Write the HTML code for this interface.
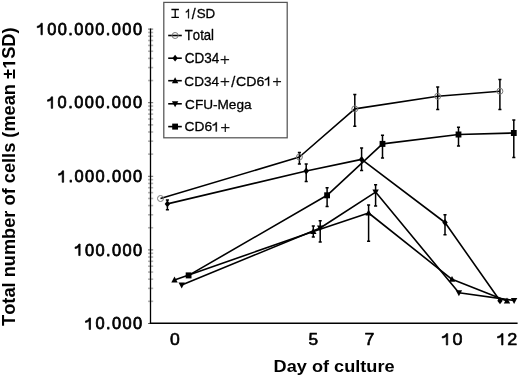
<!DOCTYPE html>
<html><head><meta charset="utf-8"><style>
html,body{margin:0;padding:0;background:#fff;}
svg{display:block;will-change:transform;}
</style></head><body>
<svg width="520" height="377" viewBox="0 0 520 377">
<line x1="148" y1="323.50" x2="153.2" y2="323.50" stroke="#666" stroke-width="1"/>
<line x1="148" y1="301.34" x2="153.2" y2="301.34" stroke="#b4b4b4" stroke-width="1.6"/>
<line x1="148" y1="288.38" x2="153.2" y2="288.38" stroke="#b4b4b4" stroke-width="1.6"/>
<line x1="148" y1="279.19" x2="153.2" y2="279.19" stroke="#b4b4b4" stroke-width="1.6"/>
<line x1="148" y1="272.06" x2="153.2" y2="272.06" stroke="#b4b4b4" stroke-width="1.6"/>
<line x1="148" y1="266.23" x2="153.2" y2="266.23" stroke="#b4b4b4" stroke-width="1.6"/>
<line x1="148" y1="261.30" x2="153.2" y2="261.30" stroke="#b4b4b4" stroke-width="1.6"/>
<line x1="148" y1="257.03" x2="153.2" y2="257.03" stroke="#b4b4b4" stroke-width="1.6"/>
<line x1="148" y1="253.27" x2="153.2" y2="253.27" stroke="#b4b4b4" stroke-width="1.6"/>
<line x1="148" y1="249.90" x2="153.2" y2="249.90" stroke="#666" stroke-width="1"/>
<line x1="148" y1="227.74" x2="153.2" y2="227.74" stroke="#b4b4b4" stroke-width="1.6"/>
<line x1="148" y1="214.78" x2="153.2" y2="214.78" stroke="#b4b4b4" stroke-width="1.6"/>
<line x1="148" y1="205.59" x2="153.2" y2="205.59" stroke="#b4b4b4" stroke-width="1.6"/>
<line x1="148" y1="198.46" x2="153.2" y2="198.46" stroke="#b4b4b4" stroke-width="1.6"/>
<line x1="148" y1="192.63" x2="153.2" y2="192.63" stroke="#b4b4b4" stroke-width="1.6"/>
<line x1="148" y1="187.70" x2="153.2" y2="187.70" stroke="#b4b4b4" stroke-width="1.6"/>
<line x1="148" y1="183.43" x2="153.2" y2="183.43" stroke="#b4b4b4" stroke-width="1.6"/>
<line x1="148" y1="179.67" x2="153.2" y2="179.67" stroke="#b4b4b4" stroke-width="1.6"/>
<line x1="148" y1="176.30" x2="153.2" y2="176.30" stroke="#666" stroke-width="1"/>
<line x1="148" y1="154.14" x2="153.2" y2="154.14" stroke="#b4b4b4" stroke-width="1.6"/>
<line x1="148" y1="141.18" x2="153.2" y2="141.18" stroke="#b4b4b4" stroke-width="1.6"/>
<line x1="148" y1="131.99" x2="153.2" y2="131.99" stroke="#b4b4b4" stroke-width="1.6"/>
<line x1="148" y1="124.86" x2="153.2" y2="124.86" stroke="#b4b4b4" stroke-width="1.6"/>
<line x1="148" y1="119.03" x2="153.2" y2="119.03" stroke="#b4b4b4" stroke-width="1.6"/>
<line x1="148" y1="114.10" x2="153.2" y2="114.10" stroke="#b4b4b4" stroke-width="1.6"/>
<line x1="148" y1="109.83" x2="153.2" y2="109.83" stroke="#b4b4b4" stroke-width="1.6"/>
<line x1="148" y1="106.07" x2="153.2" y2="106.07" stroke="#b4b4b4" stroke-width="1.6"/>
<line x1="148" y1="102.70" x2="153.2" y2="102.70" stroke="#666" stroke-width="1"/>
<line x1="148" y1="80.54" x2="153.2" y2="80.54" stroke="#b4b4b4" stroke-width="1.6"/>
<line x1="148" y1="67.58" x2="153.2" y2="67.58" stroke="#b4b4b4" stroke-width="1.6"/>
<line x1="148" y1="58.39" x2="153.2" y2="58.39" stroke="#b4b4b4" stroke-width="1.6"/>
<line x1="148" y1="51.26" x2="153.2" y2="51.26" stroke="#b4b4b4" stroke-width="1.6"/>
<line x1="148" y1="45.43" x2="153.2" y2="45.43" stroke="#b4b4b4" stroke-width="1.6"/>
<line x1="148" y1="40.50" x2="153.2" y2="40.50" stroke="#b4b4b4" stroke-width="1.6"/>
<line x1="148" y1="36.23" x2="153.2" y2="36.23" stroke="#b4b4b4" stroke-width="1.6"/>
<line x1="148" y1="32.47" x2="153.2" y2="32.47" stroke="#b4b4b4" stroke-width="1.6"/>
<line x1="148" y1="29.10" x2="153.2" y2="29.10" stroke="#666" stroke-width="1"/>
<line x1="150.5" y1="28.5" x2="150.5" y2="324.0" stroke="#000" stroke-width="1.3"/>
<line x1="149.8" y1="323.3" x2="517.6" y2="323.3" stroke="#000" stroke-width="1.4"/>
<g transform="matrix(0.008009 0 0 0.008172 36.714 34.762)"><text x="0" y="0" font-size="2048" font-weight="normal" fill="#000" stroke="#000" stroke-width="92.7" stroke-linejoin="round" style="font-family:'Liberation Sans',sans-serif;font-kerning:none;letter-spacing:176.5px"><tspan fill="transparent" stroke="none">1</tspan>00.000.000</text><path transform="scale(1 -1)" fill="#000" stroke="#000" stroke-width="92.7" stroke-linejoin="round" d="M530 0V1060L430 975L280 905L70 860V1040L270 1100L430 1220L545 1409H700V0Z"/></g>
<g transform="matrix(0.008009 0 0 0.008172 47.014 108.362)"><text x="0" y="0" font-size="2048" font-weight="normal" fill="#000" stroke="#000" stroke-width="92.7" stroke-linejoin="round" style="font-family:'Liberation Sans',sans-serif;font-kerning:none;letter-spacing:179.8px"><tspan fill="transparent" stroke="none">1</tspan>0.000.000</text><path transform="scale(1 -1)" fill="#000" stroke="#000" stroke-width="92.7" stroke-linejoin="round" d="M530 0V1060L430 975L280 905L70 860V1040L270 1100L430 1220L545 1409H700V0Z"/></g>
<g transform="matrix(0.008009 0 0 0.008172 58.014 182.312)"><text x="0" y="0" font-size="2048" font-weight="normal" fill="#000" stroke="#000" stroke-width="92.7" stroke-linejoin="round" style="font-family:'Liberation Sans',sans-serif;font-kerning:none;letter-spacing:173.0px"><tspan fill="transparent" stroke="none">1</tspan>.000.000</text><path transform="scale(1 -1)" fill="#000" stroke="#000" stroke-width="92.7" stroke-linejoin="round" d="M530 0V1060L430 975L280 905L70 860V1040L270 1100L430 1220L545 1409H700V0Z"/></g>
<g transform="matrix(0.008009 0 0 0.008172 74.514 255.562)"><text x="0" y="0" font-size="2048" font-weight="normal" fill="#000" stroke="#000" stroke-width="92.7" stroke-linejoin="round" style="font-family:'Liberation Sans',sans-serif;font-kerning:none;letter-spacing:171.9px"><tspan fill="transparent" stroke="none">1</tspan>00.000</text><path transform="scale(1 -1)" fill="#000" stroke="#000" stroke-width="92.7" stroke-linejoin="round" d="M530 0V1060L430 975L280 905L70 860V1040L270 1100L430 1220L545 1409H700V0Z"/></g>
<g transform="matrix(0.008009 0 0 0.008172 84.914 329.462)"><text x="0" y="0" font-size="2048" font-weight="normal" fill="#000" stroke="#000" stroke-width="92.7" stroke-linejoin="round" style="font-family:'Liberation Sans',sans-serif;font-kerning:none;letter-spacing:174.4px"><tspan fill="transparent" stroke="none">1</tspan>0.000</text><path transform="scale(1 -1)" fill="#000" stroke="#000" stroke-width="92.7" stroke-linejoin="round" d="M530 0V1060L430 975L280 905L70 860V1040L270 1100L430 1220L545 1409H700V0Z"/></g>
<g transform="matrix(0.008580 0 0 0.008138 170.114 345.037)"><text x="0" y="0" font-size="2048" font-weight="normal" fill="#000" stroke="#000" stroke-width="71.8" stroke-linejoin="round" style="font-family:'Liberation Sans',sans-serif;font-kerning:none">0</text></g>
<g transform="matrix(0.008445 0 0 0.008138 308.608 345.037)"><text x="0" y="0" font-size="2048" font-weight="normal" fill="#000" stroke="#000" stroke-width="72.4" stroke-linejoin="round" style="font-family:'Liberation Sans',sans-serif;font-kerning:none">5</text></g>
<g transform="matrix(0.008700 0 0 0.008375 364.386 345.200)"><text x="0" y="0" font-size="2048" font-weight="normal" fill="#000" stroke="#000" stroke-width="70.3" stroke-linejoin="round" style="font-family:'Liberation Sans',sans-serif;font-kerning:none">7</text></g>
<g transform="matrix(0.008789 0 0 0.008138 441.585 345.037)"><text x="0" y="0" font-size="2048" font-weight="normal" fill="#000" stroke="#000" stroke-width="70.9" stroke-linejoin="round" style="font-family:'Liberation Sans',sans-serif;font-kerning:none;letter-spacing:113.4px"><tspan fill="transparent" stroke="none">1</tspan>0</text><path transform="scale(1 -1)" fill="#000" stroke="#000" stroke-width="70.9" stroke-linejoin="round" d="M530 0V1060L430 975L280 905L70 860V1040L270 1100L430 1220L545 1409H700V0Z"/></g>
<g transform="matrix(0.008789 0 0 0.008138 496.885 345.037)"><text x="0" y="0" font-size="2048" font-weight="normal" fill="#000" stroke="#000" stroke-width="70.9" stroke-linejoin="round" style="font-family:'Liberation Sans',sans-serif;font-kerning:none;letter-spacing:45.4px"><tspan fill="transparent" stroke="none">1</tspan>2</text><path transform="scale(1 -1)" fill="#000" stroke="#000" stroke-width="70.9" stroke-linejoin="round" d="M530 0V1060L430 975L280 905L70 860V1040L270 1100L430 1220L545 1409H700V0Z"/></g>
<g transform="matrix(0.008863 0 0 0.008304 273.586 371.600)"><text x="0" y="0" font-size="2048" font-weight="bold" fill="#000" style="font-family:'Liberation Sans',sans-serif;font-kerning:none">Day of culture</text></g>
<g transform="matrix(0 -0.008899 0.008659 0 15.200 325.905)"><text x="0" y="0" font-size="2048" font-weight="bold" fill="#000" style="font-family:'Liberation Sans',sans-serif;font-kerning:none">Total number of cells (mean ±<tspan fill="transparent" stroke="none">1</tspan>SD)</text><path transform="scale(1 -1)" fill="#000" d="M29369 0V1170L29031 959V1180L29384 1409H29650V0Z"/></g>
<g transform="matrix(0.004921 0 0 0.006600 185.506 18.250)"><text x="0" y="0" font-size="2048" font-weight="normal" fill="#000" stroke="#000" stroke-width="52.1" stroke-linejoin="round" style="font-family:'Liberation Sans',sans-serif;font-kerning:none"><tspan fill="transparent" stroke="none">1</tspan></text><path transform="scale(1 -1)" fill="#000" stroke="#000" stroke-width="52.1" stroke-linejoin="round" d="M530 0V1060L430 975L280 905L70 860V1040L270 1100L430 1220L545 1409H700V0Z"/></g>
<g transform="matrix(0.006518 0 0 0.006600 196.644 18.250)"><text x="0" y="0" font-size="2048" font-weight="normal" fill="#000" stroke="#000" stroke-width="45.7" stroke-linejoin="round" style="font-family:'Liberation Sans',sans-serif;font-kerning:none">SD</text></g>
<g transform="matrix(0.006407 0 0 0.006884 184.855 40.150)"><text x="0" y="0" font-size="2048" font-weight="normal" fill="#000" stroke="#000" stroke-width="45.1" stroke-linejoin="round" style="font-family:'Liberation Sans',sans-serif;font-kerning:none">Total</text></g>
<g transform="matrix(0.006605 0 0 0.006884 184.663 63.250)"><text x="0" y="0" font-size="2048" font-weight="normal" fill="#000" stroke="#000" stroke-width="44.5" stroke-linejoin="round" style="font-family:'Liberation Sans',sans-serif;font-kerning:none">CD34</text></g>
<g transform="matrix(0.006644 0 0 0.006458 184.359 85.850)"><text x="0" y="0" font-size="2048" font-weight="normal" fill="#000" stroke="#000" stroke-width="45.8" stroke-linejoin="round" style="font-family:'Liberation Sans',sans-serif;font-kerning:none">CD34</text></g>
<g transform="matrix(0.006925 0 0 0.006458 235.930 85.850)"><text x="0" y="0" font-size="2048" font-weight="normal" fill="#000" stroke="#000" stroke-width="44.8" stroke-linejoin="round" style="font-family:'Liberation Sans',sans-serif;font-kerning:none">CD6<tspan fill="transparent" stroke="none">1</tspan></text><path transform="scale(1 -1)" fill="#000" stroke="#000" stroke-width="44.8" stroke-linejoin="round" d="M4627 0V1060L4527 975L4377 905L4167 860V1040L4367 1100L4527 1220L4642 1409H4797V0Z"/></g>
<g transform="matrix(0.006640 0 0 0.006671 185.059 108.750)"><text x="0" y="0" font-size="2048" font-weight="normal" fill="#000" stroke="#000" stroke-width="45.1" stroke-linejoin="round" style="font-family:'Liberation Sans',sans-serif;font-kerning:none">CFU-Mega</text></g>
<g transform="matrix(0.006733 0 0 0.006600 184.550 131.450)"><text x="0" y="0" font-size="2048" font-weight="normal" fill="#000" stroke="#000" stroke-width="45.0" stroke-linejoin="round" style="font-family:'Liberation Sans',sans-serif;font-kerning:none">CD6<tspan fill="transparent" stroke="none">1</tspan></text><path transform="scale(1 -1)" fill="#000" stroke="#000" stroke-width="45.0" stroke-linejoin="round" d="M4627 0V1060L4527 975L4377 905L4167 860V1040L4367 1100L4527 1220L4642 1409H4797V0Z"/></g>
<g transform="matrix(0.006854 0 0 0.007314 191.850 19.304)"><text x="0" y="0" font-size="2048" font-weight="normal" fill="#000" stroke="#000" stroke-width="42.3" stroke-linejoin="round" style="font-family:'Liberation Sans',sans-serif;font-kerning:none">/</text></g>
<g transform="matrix(0.007030 0 0 0.007380 231.350 87.102)"><text x="0" y="0" font-size="2048" font-weight="normal" fill="#000" stroke="#000" stroke-width="41.6" stroke-linejoin="round" style="font-family:'Liberation Sans',sans-serif;font-kerning:none">/</text></g>
<rect x="163.8" y="2.4" width="123.4" height="135.4" fill="none" stroke="#555" stroke-width="1.25"/>
<g transform="matrix(0.008543 0 0 0.007984 219.846 64.737)"><text x="0" y="0" font-size="2048" font-weight="normal" fill="#111" style="font-family:'Liberation Sans',sans-serif;font-kerning:none">+</text></g>
<g transform="matrix(0.008643 0 0 0.007784 219.736 87.401)"><text x="0" y="0" font-size="2048" font-weight="normal" fill="#111" style="font-family:'Liberation Sans',sans-serif;font-kerning:none">+</text></g>
<g transform="matrix(0.008040 0 0 0.007685 272.296 87.383)"><text x="0" y="0" font-size="2048" font-weight="normal" fill="#111" style="font-family:'Liberation Sans',sans-serif;font-kerning:none">+</text></g>
<g transform="matrix(0.008442 0 0 0.007784 220.156 133.201)"><text x="0" y="0" font-size="2048" font-weight="normal" fill="#111" style="font-family:'Liberation Sans',sans-serif;font-kerning:none">+</text></g>
<path d="M171.4 9.5H178.9M175.2 9.5V17.3M171.4 17.3H178.9" stroke="#000" stroke-width="1.3" fill="none"/>
<line x1="168.2" y1="35.5" x2="181.8" y2="35.5" stroke="#000" stroke-width="1.6"/>
<circle cx="175.1" cy="35.5" r="3.0" fill="none" stroke="#777" stroke-width="1"/>
<line x1="168.2" y1="58.2" x2="181.8" y2="58.2" stroke="#000" stroke-width="1.6"/>
<polygon points="175.1,54.800000000000004 177.79999999999998,58.2 175.1,61.6 172.4,58.2" fill="#000"/>
<line x1="168.2" y1="80.7" x2="181.8" y2="80.7" stroke="#000" stroke-width="1.6"/>
<polygon points="175.1,77.3 178.29999999999998,83.2 171.9,83.2" fill="#000"/>
<line x1="168.2" y1="103.8" x2="181.8" y2="103.8" stroke="#000" stroke-width="1.6"/>
<polygon points="175.1,107.2 178.29999999999998,101.3 171.9,101.3" fill="#000"/>
<line x1="168.2" y1="126.6" x2="181.8" y2="126.6" stroke="#000" stroke-width="1.6"/>
<rect x="172.2" y="123.6" width="5.8" height="6.0" fill="#000"/>
<polyline points="160.5,198.5 299.4,157.0 354.8,108.9 437.7,96.3 499.9,91.2" fill="none" stroke="#000" stroke-width="1.6" stroke-linejoin="round"/>
<polyline points="167.4,203.9 306.2,171 361.6,159.4 445,222.5 500,300.8" fill="none" stroke="#000" stroke-width="1.6" stroke-linejoin="round"/>
<polyline points="174.5,280 313.3,231.5 368.6,213 452,279.3 507,301" fill="none" stroke="#000" stroke-width="1.6" stroke-linejoin="round"/>
<polyline points="181.7,285.0 320.2,228 375.6,192.1 458.9,292.8 514.1,300.5" fill="none" stroke="#000" stroke-width="1.6" stroke-linejoin="round"/>
<polyline points="188.6,275.4 327.1,195.3 382.5,143.9 458.5,134.5 513.8,133" fill="none" stroke="#000" stroke-width="1.6" stroke-linejoin="round"/>
<path d="M297.84999999999997 152.39999999999998H300.95M299.4 152.39999999999998V164.10000000000002M297.84999999999997 164.10000000000002H300.95" stroke="#000" stroke-width="1.5" fill="none"/>
<path d="M353.25 94.60000000000001H356.35M354.8 94.60000000000001V126.19999999999999M353.25 126.19999999999999H356.35" stroke="#000" stroke-width="1.5" fill="none"/>
<path d="M436.15 87.10000000000001H439.25M437.7 87.10000000000001V109.5M436.15 109.5H439.25" stroke="#000" stroke-width="1.5" fill="none"/>
<path d="M498.34999999999997 79.4H501.45M499.9 79.4V109.6M498.34999999999997 109.6H501.45" stroke="#000" stroke-width="1.5" fill="none"/>
<path d="M165.85 199.99999999999997H168.95000000000002M167.4 199.99999999999997V209.8M165.85 209.8H168.95000000000002" stroke="#000" stroke-width="1.5" fill="none"/>
<path d="M304.65 163.89999999999998H307.75M306.2 163.89999999999998V181.60000000000002M304.65 181.60000000000002H307.75" stroke="#000" stroke-width="1.5" fill="none"/>
<path d="M360.05 147.99999999999997H363.15000000000003M361.6 147.99999999999997V170.40000000000003M360.05 170.40000000000003H363.15000000000003" stroke="#000" stroke-width="1.5" fill="none"/>
<path d="M443.45 214.7H446.55M445 214.7V234.8M443.45 234.8H446.55" stroke="#000" stroke-width="1.5" fill="none"/>
<path d="M311.75 225.89999999999998H314.85M313.3 225.89999999999998V236.90000000000003M311.75 236.90000000000003H314.85" stroke="#000" stroke-width="1.5" fill="none"/>
<path d="M367.05 205.09999999999997H370.15000000000003M368.6 205.09999999999997V241.3M367.05 241.3H370.15000000000003" stroke="#000" stroke-width="1.5" fill="none"/>
<path d="M318.65 220.79999999999998H321.75M320.2 220.79999999999998V242.10000000000002M318.65 242.10000000000002H321.75" stroke="#000" stroke-width="1.5" fill="none"/>
<path d="M374.05 184.7H377.15000000000003M375.6 184.7V206.10000000000002M374.05 206.10000000000002H377.15000000000003" stroke="#000" stroke-width="1.5" fill="none"/>
<path d="M325.55 187.79999999999998H328.65000000000003M327.1 187.79999999999998V206.50000000000003M325.55 206.50000000000003H328.65000000000003" stroke="#000" stroke-width="1.5" fill="none"/>
<path d="M380.95 135.29999999999998H384.05M382.5 135.29999999999998V158.10000000000002M380.95 158.10000000000002H384.05" stroke="#000" stroke-width="1.5" fill="none"/>
<path d="M456.95 127.30000000000001H460.05M458.5 127.30000000000001V145.90000000000003M456.95 145.90000000000003H460.05" stroke="#000" stroke-width="1.5" fill="none"/>
<path d="M512.25 120.10000000000001H515.3499999999999M513.8 120.10000000000001V157.40000000000003M512.25 157.40000000000003H515.3499999999999" stroke="#000" stroke-width="1.5" fill="none"/>
<circle cx="160.5" cy="198.5" r="3.0" fill="none" stroke="#777" stroke-width="1"/>
<circle cx="299.4" cy="157.0" r="3.0" fill="none" stroke="#777" stroke-width="1"/>
<circle cx="354.8" cy="108.9" r="3.0" fill="none" stroke="#777" stroke-width="1"/>
<circle cx="437.7" cy="96.3" r="3.0" fill="none" stroke="#777" stroke-width="1"/>
<circle cx="499.9" cy="91.2" r="3.0" fill="none" stroke="#777" stroke-width="1"/>
<polygon points="167.4,200.5 170.1,203.9 167.4,207.3 164.70000000000002,203.9" fill="#000"/>
<polygon points="306.2,167.6 308.9,171 306.2,174.4 303.5,171" fill="#000"/>
<polygon points="361.6,156.0 364.3,159.4 361.6,162.8 358.90000000000003,159.4" fill="#000"/>
<polygon points="445,219.1 447.7,222.5 445,225.9 442.3,222.5" fill="#000"/>
<polygon points="500,297.40000000000003 502.7,300.8 500,304.2 497.3,300.8" fill="#000"/>
<polygon points="174.5,276.6 177.7,282.5 171.3,282.5" fill="#000"/>
<polygon points="313.3,228.1 316.5,234.0 310.1,234.0" fill="#000"/>
<polygon points="368.6,209.6 371.8,215.5 365.40000000000003,215.5" fill="#000"/>
<polygon points="452,275.90000000000003 455.2,281.8 448.8,281.8" fill="#000"/>
<polygon points="507,297.6 510.2,303.5 503.8,303.5" fill="#000"/>
<polygon points="181.7,288.4 184.89999999999998,282.5 178.5,282.5" fill="#000"/>
<polygon points="320.2,231.4 323.4,225.5 317.0,225.5" fill="#000"/>
<polygon points="375.6,195.5 378.8,189.6 372.40000000000003,189.6" fill="#000"/>
<polygon points="458.9,296.2 462.09999999999997,290.3 455.7,290.3" fill="#000"/>
<polygon points="514.1,303.9 517.3000000000001,298.0 510.90000000000003,298.0" fill="#000"/>
<rect x="185.7" y="272.4" width="5.8" height="6.0" fill="#000"/>
<rect x="324.20000000000005" y="192.3" width="5.8" height="6.0" fill="#000"/>
<rect x="379.6" y="140.9" width="5.8" height="6.0" fill="#000"/>
<rect x="455.6" y="131.5" width="5.8" height="6.0" fill="#000"/>
<rect x="510.9" y="130.0" width="5.8" height="6.0" fill="#000"/>
</svg>
</body></html>
